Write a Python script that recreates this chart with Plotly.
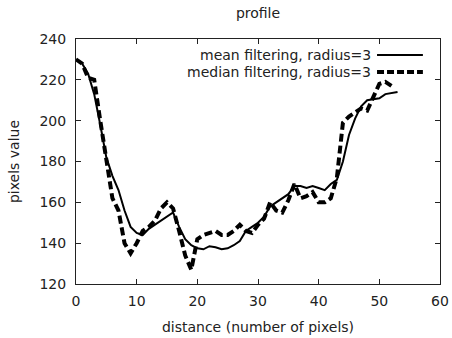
import plotly.graph_objects as go

title_text = "profile"
x_label = "distance (number of pixels)"
y_label = "pixels value"
mean_name = "mean filtering, radius=3"
median_name = "median filtering, radius=3"

mean_x = list(range(0, 54))
mean_y = [230, 228, 223, 213, 198, 182, 173, 166, 156, 148,
          145, 144, 147, 149, 151, 153, 155, 148, 142, 139,
          137.5, 137, 138.5, 138, 137, 137.5, 139, 141, 146, 148,
          150, 153, 158, 160, 162, 164, 168, 168, 167, 168,
          167, 166, 169, 171, 180, 193, 201, 207, 210, 210.5,
          211, 213, 213.5, 214]

median_x = list(range(0, 53))
median_y = [230, 228, 221, 220, 200, 180, 162, 156, 140, 135,
            140, 146, 148, 151, 157, 160, 157, 146, 134, 127,
            142, 144, 145, 146, 144, 144, 146, 149, 146, 145,
            149, 152, 160, 156, 155, 161, 169, 162, 163, 165,
            160, 160, 162, 172, 199, 202, 204, 206, 205, 212,
            218, 219, 217]

x_ticks = [0, 10, 20, 30, 40, 50, 60]
y_ticks = [120, 140, 160, 180, 200, 220, 240]

font = "DejaVu Sans"

fig = go.Figure()
fig.add_trace(go.Scatter(x=mean_x, y=mean_y, mode="lines", name=mean_name,
                         line=dict(color="black", width=2), showlegend=False))
fig.add_trace(go.Scatter(x=median_x, y=median_y, mode="lines", name=median_name,
                         line=dict(color="black", width=4, dash="8px,4px"), showlegend=False))

axis_common = dict(showgrid=False, zeroline=False, showline=True, linecolor="#222",
                   linewidth=1, mirror="ticks", ticks="inside", ticklen=5,
                   tickcolor="#222", automargin=False,
                   tickfont=dict(family=font, size=14, color="#222"))

fig.update_xaxes(range=[0, 60], tickvals=x_ticks, **axis_common,
                 ticklabelstandoff=4,
                 title=dict(text=x_label, font=dict(family=font, size=14, color="#222"), standoff=14))
fig.update_yaxes(range=[120, 240], tickvals=y_ticks, **axis_common,
                 ticklabelstandoff=6,
                 title=dict(text=y_label, font=dict(family=font, size=14, color="#222"), standoff=16))

# legend (gnuplot style: text right-aligned, sample on the right)
legend_rows = [(mean_name, 0.935, dict(color="black", width=2)),
               (median_name, 0.865, dict(color="black", width=4, dash="7px,3px"))]
for name, yy, ln in legend_rows:
    fig.add_annotation(xref="paper", yref="paper", x=0.815, y=yy, text=name,
                       showarrow=False, xanchor="right", yanchor="middle",
                       font=dict(family=font, size=14, color="#222"))
    fig.add_shape(type="line", xref="paper", yref="paper", x0=0.827, x1=0.953,
                  y0=yy, y1=yy, line=ln)

fig.update_layout(
    width=452, height=338,
    margin=dict(l=76, r=12, t=39, b=54),
    paper_bgcolor="white", plot_bgcolor="white",
    title=dict(text=title_text, x=(76 + 182) / 452, xanchor="center", y=1 - 13 / 338,
               yanchor="middle", font=dict(family=font, size=14, color="#222")),
)

fig.write_html("out.html", config={"displayModeBar": False},
               post_script="document.body.style.margin='0';document.body.style.overflow='hidden';")
